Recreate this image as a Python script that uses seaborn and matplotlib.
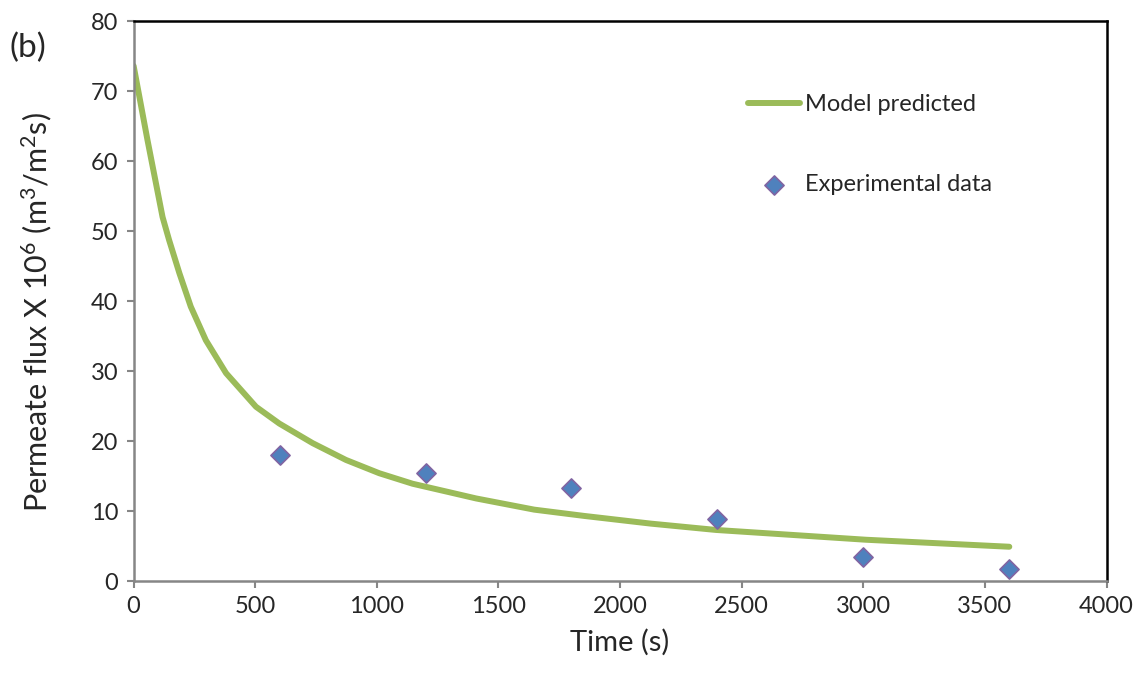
import pandas as pd
import matplotlib
matplotlib.use("Agg")
import matplotlib.pyplot as plt
import seaborn as sns

# model curve
model_time = [0, 57, 119, 146, 188, 235, 297, 380, 503, 599, 736, 873,
              1010, 1147, 1284, 1408, 1647, 1853, 2127, 2394, 3011, 3600]
model_flux = [73.6, 63.0, 52.0, 48.7, 44.0, 39.2, 34.4, 29.7, 24.9, 22.5,
              19.7, 17.3, 15.4, 13.9, 12.8, 11.8, 10.2, 9.3, 8.2, 7.3, 5.9, 4.9]

# experimental points
exp_time = [600, 1200, 1800, 2400, 3000, 3600]
exp_flux = [18.0, 15.5, 13.3, 8.8, 3.5, 1.7]

x_ticks = [0, 500, 1000, 1500, 2000, 2500, 3000, 3500, 4000]
y_ticks = [0, 10, 20, 30, 40, 50, 60, 70, 80]

sns.set_style("white")
plt.rcParams["font.family"] = ["Lato", "DejaVu Sans"]
plt.rcParams["mathtext.default"] = "regular"

model_df = pd.DataFrame({"t": model_time, "flux": model_flux})
exp_df = pd.DataFrame({"t": exp_time, "flux": exp_flux})

fig = plt.figure(figsize=(11.42, 6.78), dpi=100)
ax = fig.add_axes([0.117, 0.143, 0.852, 0.826])

sns.lineplot(data=model_df, x="t", y="flux", ax=ax, color="#9BBB59",
             linewidth=4.3, label="Model predicted", solid_capstyle="round",
             solid_joinstyle="round")
sns.scatterplot(data=exp_df, x="t", y="flux", ax=ax, marker="D", s=95,
                color="#4F81BD", edgecolor="#8064A2", linewidth=1.2,
                label="Experimental data", zorder=3)

ax.set_xlim(0, 4000)
ax.set_ylim(0, 80)
ax.set_xticks(x_ticks)
ax.set_yticks(y_ticks)
ax.tick_params(axis="both", labelsize=17, direction="out", length=5,
               width=1.5, color="#868686", pad=6)
ax.tick_params(left=True, bottom=True)

for side in ["left", "bottom"]:
    ax.spines[side].set_color("#868686")
    ax.spines[side].set_linewidth(1.8)
for side in ["top", "right"]:
    ax.spines[side].set_color("black")
    ax.spines[side].set_linewidth(1.8)

ax.set_xlabel("Time (s)", fontsize=21, labelpad=8)
ax.set_ylabel("Permeate flux X 10$^{6}$ (m$^{3}$/m$^{2}$s)", fontsize=22,
              labelpad=18)
ax.yaxis.set_label_coords(-0.082, 0.48)

fig.text(0.008, 0.93, "(b)", fontsize=24, ha="left", va="center")

ax.legend(loc="upper left", bbox_to_anchor=(0.647, 0.875),
          bbox_transform=fig.transFigure, frameon=False, fontsize=17,
          handlelength=2.2, handletextpad=0.2, labelspacing=2.5,
          borderaxespad=0)

fig.savefig("out.png", dpi=100)
